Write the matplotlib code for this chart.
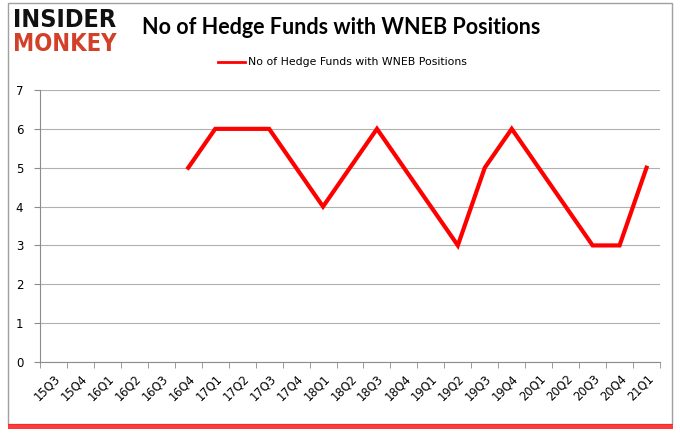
import matplotlib
matplotlib.use("Agg")
import matplotlib.pyplot as plt
from matplotlib.patches import Rectangle
import numpy as np

quarters = ["15Q3", "15Q4", "16Q1", "16Q2", "16Q3", "16Q4", "17Q1", "17Q2", "17Q3",
            "17Q4", "18Q1", "18Q2", "18Q3", "18Q4", "19Q1", "19Q2", "19Q3", "19Q4",
            "20Q1", "20Q2", "20Q3", "20Q4", "21Q1"]
values = [None, None, None, None, None, 5, 6, 6, 6, 5, 4, 5, 6, 5, 4, 3, 5, 6, 5, 4, 3, 3, 5]
series_name = "No of Hedge Funds with WNEB Positions"
title = "No of Hedge Funds with WNEB Positions"

fig = plt.figure(figsize=(6.8, 4.33), dpi=100)
fig.patch.set_facecolor("white")

# border and shadow
fig.add_artist(Rectangle((8/680, 1 - 424/433), 664/680, 421/433, transform=fig.transFigure,
                         fill=False, edgecolor="#a0a0a0", linewidth=1.0))
fig.add_artist(Rectangle((8/680, 1 - 429/433), 665/680, 5/433, transform=fig.transFigure,
                         facecolor="#ff1a1a", edgecolor="none", alpha=0.85))

ax = fig.add_axes([40/680, 1 - 362/433, 620/680, 272/433])
x = np.arange(len(quarters))
y = np.array([np.nan if v is None else v for v in values], dtype=float)
ax.plot(x, y, color="#ff0000", linewidth=3, solid_joinstyle="miter")

ax.set_xlim(-0.5, len(quarters) - 0.5)
ax.set_ylim(0, 7)
ax.set_yticks(range(0, 8))
ax.yaxis.grid(True, color="#b0b0b0", linewidth=0.8)
ax.set_axisbelow(True)
for s in ["top", "right"]:
    ax.spines[s].set_visible(False)
for s in ["left", "bottom"]:
    ax.spines[s].set_color("#8c8c8c")
ax.set_xticks(x)
ax.set_xticklabels(quarters, rotation=45, ha="right", rotation_mode="anchor", fontsize=8.3)
ax.set_xticks(np.arange(-0.5, len(quarters)), minor=True)
ax.tick_params(axis="x", which="major", length=0, pad=7)
ax.tick_params(axis="x", which="minor", length=4, color="#8c8c8c")
ax.tick_params(axis="y", length=4, color="#8c8c8c", labelsize=8.5, pad=8)

fig.text(341/680, 1 - 27/433, title, ha="center", va="center", fontsize=15.5,
         fontweight="bold", family=["Lato", "DejaVu Sans"])

# legend
fig.add_artist(plt.Line2D([218/680, 245/680], [1 - 62/433, 1 - 62/433],
                          transform=fig.transFigure, color="#ff0000", linewidth=2))
fig.text(248/680, 1 - 62/433, series_name, ha="left", va="center", fontsize=7.8)

# logo
fig.text(13/680, 1 - 20/433, "INSIDER", ha="left", va="center", fontsize=18,
         fontweight="bold", color="#111111", family=["DejaVu Sans"],
         fontstretch="condensed")
fig.text(13/680, 1 - 44/433, "MONKEY", ha="left", va="center", fontsize=17,
         fontweight="bold", color="#d2402a", family=["DejaVu Sans"],
         fontstretch="condensed")

fig.savefig("out.png", dpi=100)
